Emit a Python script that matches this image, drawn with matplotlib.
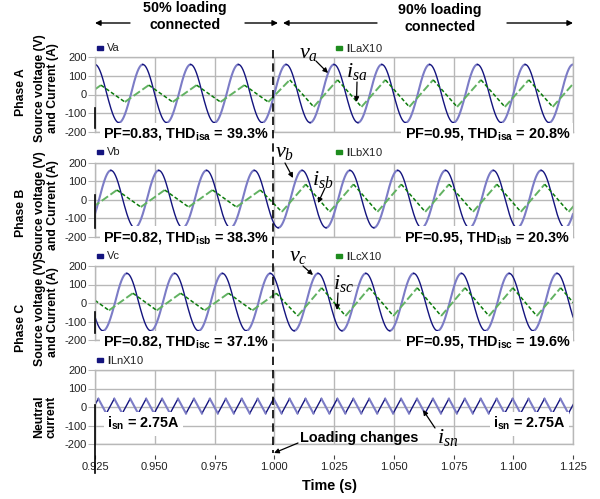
import numpy as np
import matplotlib
matplotlib.use('Agg')
import matplotlib.pyplot as plt
from matplotlib.patches import Rectangle

plt.rcParams['font.family'] = ['Liberation Sans', 'DejaVu Sans']
plt.rcParams['mathtext.fontset'] = 'custom'
plt.rcParams['mathtext.rm'] = 'Liberation Sans'
plt.rcParams['mathtext.bf'] = 'Liberation Sans:bold'
plt.rcParams['mathtext.it'] = 'Liberation Serif:italic'
plt.rcParams['axes.unicode_minus'] = False

# ---- values ----
t_start, t_end = 0.925, 1.125
t_change = 1.000
f_line = 50.0                         # Hz
v_peak_pos = 160.0                    # V
v_peak_neg = 150.0
phase_deg = [0.0, -120.0, 120.0]      # A, B, C

# load current x10, peak / trough before and after the loading step
i_peak_pre = [50, 54, 53]
i_trough_pre = [-40, -38, -40]
i_peak_post = [78, 85, 82]
i_trough_post = [-66, -64, -70]
i_lag_pre = 0.0025                    # s, current lags voltage
i_lag_post = 0.0015

# neutral current x10, ripple at 3x line frequency
n_peak = 45
n_trough = -35
n_first_peak = 0.9264

x_ticks = [0.925, 0.950, 0.975, 1.000, 1.025, 1.050, 1.075, 1.100, 1.125]
x_ticklabels = ['0.925', '0.950', '0.975', '1.000', '1.025', '1.050', '1.075', '1.100', '1.125']
y_ticks = [-200, -100, 0, 100, 200]

v_names = ['Va', 'Vb', 'Vc']
i_names = [r'$\mathbf{I}$LaX10', r'$\mathbf{I}$LbX10', r'$\mathbf{I}$LcX10']
pf_left = [r'PF=0.83, THD$_{\mathbf{isa}}$ = 39.3%', r'PF=0.82, THD$_{\mathbf{isb}}$ = 38.3%',
           r'PF=0.82, THD$_{\mathbf{isc}}$ = 37.1%']
pf_right = [r'PF=0.95, THD$_{\mathbf{isa}}$ = 20.8%', r'PF=0.95, THD$_{\mathbf{isb}}$ = 20.3%',
            r'PF=0.95, THD$_{\mathbf{isc}}$ = 19.6%']

NAVY = '#14147e'
NAVY_L = '#7c7cc6'
GRN = '#0a7a0a'
GRN_L = '#62b262'
GRID = '#b8b8b8'

W, H = 600, 499
left_px, right_px = 95, 573
panel_px = [(57, 132), (163, 237), (266, 340), (370, 444)]

fig = plt.figure(figsize=(6, 4.99), dpi=100)

t = np.linspace(t_start, t_end, 6001)


def split_dir(x, y):
    # rising parts and falling parts as two masked traces
    dy = np.gradient(y)
    up = dy >= 0
    up_ext = up | np.roll(up, 1) | np.roll(up, -1)
    dn_ext = (~up) | np.roll(~up, 1) | np.roll(~up, -1)
    return np.where(up_ext, y, np.nan), np.where(dn_ext, y, np.nan)


def vertex_trace(tv, vv):
    up_t, up_v, dn_t, dn_v = [], [], [], []
    for k in range(len(tv) - 1):
        if vv[k + 1] > vv[k]:
            up_t += [tv[k], tv[k + 1], np.nan]
            up_v += [vv[k], vv[k + 1], np.nan]
        else:
            dn_t += [tv[k], tv[k + 1], np.nan]
            dn_v += [vv[k], vv[k + 1], np.nan]
    return up_t, up_v, dn_t, dn_v


def style_axes(ax):
    ax.set_xlim(t_start, t_end)
    ax.set_ylim(-200, 200)
    ax.set_xticks(x_ticks)
    ax.set_yticks(y_ticks)
    ax.set_yticklabels([str(v) for v in y_ticks], fontsize=8, color='#222222')
    ax.grid(True, color=GRID, lw=1)
    ax.set_axisbelow(True)
    for s in ax.spines.values():
        s.set_color(GRID)
        s.set_linewidth(1)
    ax.tick_params(axis='y', length=5, color=GRID, pad=1)
    ax.tick_params(axis='x', length=0, labelbottom=False)


axes = []
for p, (y0, y1) in enumerate(panel_px):
    ax = fig.add_axes([left_px / W, 1 - y1 / H, (right_px - left_px) / W, (y1 - y0) / H])
    style_axes(ax)
    axes.append(ax)

# phase panels
for p in range(3):
    ax = axes[p]
    ph = np.deg2rad(phase_deg[p])
    s = np.sin(2 * np.pi * f_line * t + ph)
    v = np.where(s > 0, s * v_peak_pos, s * v_peak_neg)
    v_up, v_dn = split_dir(t, v)
    ax.plot(t, v_up, color=NAVY_L, lw=1.5, solid_capstyle='round')
    ax.plot(t, v_dn, color=NAVY, lw=1.0)

    # current vertices follow the voltage extrema with a lag
    tv, vv = [], []
    for k in range(44, 60):
        for frac, is_peak in ((0.25, True), (0.75, False)):
            tx = (k + frac - phase_deg[p] / 360.0) / f_line
            pre = tx < t_change
            tx += i_lag_pre if pre else i_lag_post
            if is_peak:
                val = i_peak_pre[p] if pre else i_peak_post[p]
            else:
                val = i_trough_pre[p] if pre else i_trough_post[p]
            tv.append(tx)
            vv.append(val)
    order = np.argsort(tv)
    tv = list(np.array(tv)[order])
    vv = list(np.array(vv)[order])
    up_t, up_v, dn_t, dn_v = vertex_trace(tv, vv)
    ax.plot(up_t, up_v, color=GRN_L, lw=1.4, dashes=(4, 1.5))
    ax.plot(dn_t, dn_v, color=GRN, lw=1.1, dashes=(2.5, 1.5))

# neutral panel
ax = axes[3]
tn, vn = [], []
for k in range(-1, 32):
    tp = n_first_peak + k / (3 * f_line)
    tn += [tp, tp + 0.5 / (3 * f_line)]
    vn += [n_peak, n_trough]
up_t, up_v, dn_t, dn_v = vertex_trace(tn, vn)
ax.plot(up_t, up_v, color=NAVY, lw=1.0)
ax.plot(dn_t, dn_v, color=NAVY_L, lw=1.5)

sec = ax.secondary_xaxis(-0.15)
sec.set_xticks(x_ticks)
sec.set_xticklabels(x_ticklabels, fontsize=8, color='#222222')
sec.spines['bottom'].set_visible(False)
sec.tick_params(length=3, color='#444444', pad=2)

# overlay in pixel coordinates for the annotations
ov = fig.add_axes([0, 0, 1, 1], zorder=10)
ov.set_xlim(0, W)
ov.set_ylim(H, 0)
ov.set_axis_off()
ov.patch.set_visible(False)

bold = dict(fontweight='bold', color='black')


def arrow(x0, y0, x1, y1, ms=8, lw=1.0):
    ov.annotate('', xy=(x1, y1), xytext=(x0, y0),
                arrowprops=dict(arrowstyle='-|>', color='black', lw=lw,
                                mutation_scale=ms, shrinkA=0, shrinkB=0))


# header
ov.text(185, 8, '50% loading', ha='center', va='center', fontsize=10.3, **bold)
ov.text(185, 25, 'connected', ha='center', va='center', fontsize=10.3, **bold)
ov.text(440, 10, '90% loading', ha='center', va='center', fontsize=10.3, **bold)
ov.text(440, 27, 'connected', ha='center', va='center', fontsize=10.3, **bold)
arrow(130, 23, 95, 23)
arrow(245, 23, 278, 23)
arrow(377, 23, 283, 23)
arrow(507, 23, 573, 23)

# short black marks on the left edge
for ya, yb in [(108, 128), (195, 228), (312, 333), (405, 473)]:
    ov.plot([left_px, left_px], [ya, yb], color='black', lw=1.2)

# y labels
ylab = [('Phase A', 92, 88), ('Phase B', 213, 205), ('Phase C', 328, 312)]
for name, yp, ys in ylab:
    ov.text(21, yp, name, rotation=90, ha='center', va='center', fontsize=8.8, **bold)
    ov.text(46.5, ys, 'Source voltage (V)\nand Current (A)', rotation=90, ha='center',
            va='center', fontsize=8.8, linespacing=1.05, multialignment='center', **bold)
ov.text(45, 417, 'Neutral\ncurrent', rotation=90, ha='center', va='center', fontsize=8.8,
        linespacing=1.05, multialignment='center', **bold)

# legends
leg_y = [48, 152, 256, 360]
for p in range(4):
    ov.add_patch(Rectangle((97, leg_y[p] - 2.5), 6, 4.5, color=NAVY))
    name = v_names[p] if p < 3 else r'$\mathbf{I}$LnX10'
    ov.text(107, leg_y[p], name, ha='left', va='center', fontsize=8, color='#222222')
    if p < 3:
        ov.add_patch(Rectangle((336, leg_y[p] - 2.5), 6, 4.5, color='#1e8c1e'))
        ov.text(346, leg_y[p], i_names[p], ha='left', va='center', fontsize=8, color='#222222')

# PF / THD boxes
box = dict(facecolor='white', edgecolor='none', pad=2.5)
pf_base = [138, 241, 346]
for p in range(3):
    ov.text(103, pf_base[p], pf_left[p], ha='left', va='baseline', fontsize=10.4, bbox=box, **bold)
    ov.text(570, pf_base[p], pf_right[p], ha='right', va='baseline', fontsize=10.4, bbox=box, **bold)
ov.text(107, 428, r'i$_{\mathbf{sn}}$ = 2.75A', ha='left', va='baseline', fontsize=10.4, bbox=box, **bold)
ov.text(566, 428, r'i$_{\mathbf{sn}}$ = 2.75A', ha='right', va='baseline', fontsize=10.4, bbox=box, **bold)

# loading step marker
ov.plot([273, 273], [50, 453], color='black', lw=1.2, dashes=(5, 3), zorder=5)
ov.text(300, 442, 'Loading changes', ha='left', va='baseline', fontsize=10.4, **bold)
arrow(298, 443, 274, 453, ms=7, lw=0.9)

# trace labels
mtxt = dict(fontsize=16, color='black', ha='center', va='center')
ov.text(309, 52, r'$v_a$', **mtxt)
ov.text(357, 71, r'$i_{sa}$', **mtxt)
ov.text(285, 151, r'$v_b$', **mtxt)
ov.text(323, 179, r'$i_{sb}$', **mtxt)
ov.text(298, 256, r'$v_c$', **mtxt)
ov.text(343, 284, r'$i_{sc}$', **mtxt)
ov.text(448, 437, r'$i_{sn}$', **mtxt)
arrow(316, 61, 328, 73, ms=7, lw=0.9)
arrow(357, 82, 356.5, 102, ms=7, lw=0.9)
arrow(285, 163, 293, 178, ms=7, lw=0.9)
arrow(325, 188, 318, 203, ms=7, lw=0.9)
arrow(303, 266, 313, 275, ms=7, lw=0.9)
arrow(338, 293, 337, 310, ms=7, lw=0.9)
arrow(435, 428, 423, 410, ms=7, lw=0.9)

ov.text(330, 490, 'Time (s)', ha='center', va='baseline', fontsize=10.4, **bold)

fig.savefig('out.png', dpi=100)
